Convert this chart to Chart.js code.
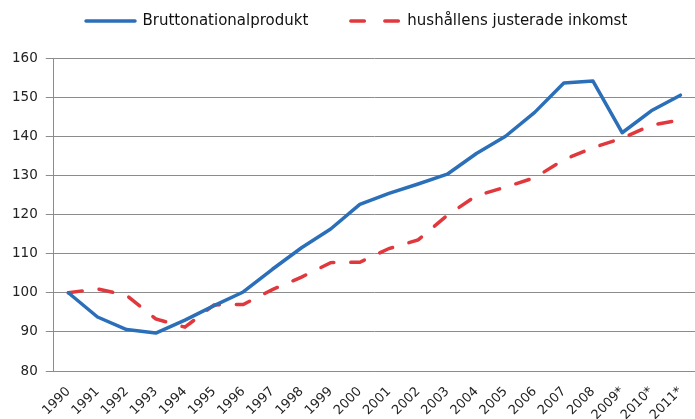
<!DOCTYPE html>
<html>
<head>
<meta charset="utf-8">
<script src="https://cdn.jsdelivr.net/npm/chart.js@4/dist/chart.umd.min.js"></script>
<style>
  body { margin: 0; background: #fff; }
  canvas { display: block; }
</style>
</head>
<body>
<canvas id="chart" width="695" height="419"></canvas>
<script>
const years = ["1990", "1991", "1992", "1993", "1994", "1995", "1996", "1997", "1998", "1999",
  "2000", "2001", "2002", "2003", "2004", "2005", "2006", "2007", "2008", "2009*", "2010*", "2011*"];

// index, 1990 = 100
const bnp = [100, 93.8, 90.6, 89.7, 93, 96.7, 100.2, 106, 111.5, 116.3,
  122.6, 125.4, 127.8, 130.3, 135.6, 140, 146.1, 153.6, 154.1, 140.9, 146.5, 150.5];
const inkomst = [100, 101, 99.3, 93.3, 91.2, 96.9, 97, 100.8, 104, 107.7,
  107.8, 111.3, 113.5, 119.8, 124.8, 127, 129.4, 134, 137.1, 139.5, 142.8, 144.2];

const ctx = document.getElementById("chart").getContext("2d");

// legend sits left of centre in the original, move it there
const legendPlace = {
  id: "legendPlace",
  afterLayout(chart) {
    const lg = chart.legend;
    lg.left = 43.5;
    lg.top = -29;
  },
};

const gridGray = "#8c8c8c";
const legendDash = [[], [13.5, 20.5]];

new Chart(ctx, {
  type: "line",
  data: {
    labels: years,
    datasets: [
      {
        label: "Bruttonationalprodukt",
        data: bnp,
        borderColor: "#2a6fb8",
        backgroundColor: "#2a6fb8",
        borderWidth: 3.5,
        borderCapStyle: "round",
        borderJoinStyle: "round",
        pointRadius: 0,
        tension: 0,
        fill: false,
      },
      {
        label: "hushållens justerade inkomst",
        data: inkomst,
        borderColor: "#e0383c",
        backgroundColor: "#e0383c",
        borderWidth: 3.5,
        borderDash: [14, 17],
        borderCapStyle: "round",
        pointRadius: 0,
        tension: 0,
        fill: false,
      },
    ],
  },
  options: {
    responsive: false,
    devicePixelRatio: 1,
    animation: false,
    layout: { padding: { left: 4, right: -3, top: 0, bottom: 0 } },
    plugins: {
      legend: {
        position: "top",
        align: "start",
        maxHeight: 58,
        labels: {
          usePointStyle: true,
          pointStyle: "line",
          pointStyleWidth: 49,
          boxHeight: 15,
          padding: 42.5,
          color: "#111",
          font: { family: "DejaVu Sans", size: 15 },
          generateLabels(chart) {
            const items = Chart.defaults.plugins.legend.labels.generateLabels(chart);
            items.forEach((it, i) => {
              it.lineDash = legendDash[i];
              it.lineCap = "round";
            });
            return items;
          },
        },
      },
      tooltip: { enabled: false },
    },
    scales: {
      x: {
        offset: true,
        grid: { display: false, drawTicks: false },
        border: { display: true, color: gridGray, width: 1 },
        ticks: {
          autoSkip: false,
          minRotation: 45,
          maxRotation: 45,
          padding: 13,
          color: "#222",
          font: { family: "DejaVu Sans", size: 13 },
        },
        afterFit(scale) {
          scale.height = 48;
          scale.paddingLeft = 0;
          scale.paddingRight = 0;
        },
      },
      y: {
        min: 80,
        max: 160,
        ticks: {
          stepSize: 10,
          padding: 8,
          color: "#222",
          font: { family: "DejaVu Sans", size: 13.5 },
        },
        grid: { color: gridGray, lineWidth: 1, tickLength: 8 },
        border: { display: true, color: gridGray, width: 1 },
      },
    },
  },
  plugins: [legendPlace],
});
</script>
</body>
</html>
